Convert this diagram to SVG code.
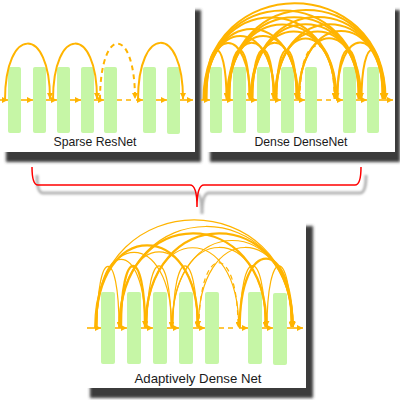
<svg xmlns="http://www.w3.org/2000/svg" width="400" height="400" viewBox="0 0 400 400">
<defs>
<style>
.shadow{fill:#3a3a3a;filter:url(#blur)}
.panel{fill:#ffffff}
.blk{fill:#c6f6a6}
.ln{fill:none;stroke:#ffb400;stroke-width:1.6;marker-end:url(#ah)}
.arc{fill:none;stroke:#ffb400;stroke-width:2;marker-end:url(#ah)}
.thin{fill:none;stroke:#ffb400;stroke-width:1.2;marker-end:url(#ahs)}
.thick{fill:none;stroke:#ffb400;stroke-width:2.3;marker-end:url(#ah)}
.dash{stroke-dasharray:5 4}
.lbl{font-family:"Liberation Sans",Arial,sans-serif;font-size:13px;fill:#1a1a1a;text-anchor:middle}
</style>
<filter id="blur" x="-10%" y="-10%" width="120%" height="120%"><feGaussianBlur stdDeviation="1.6"/></filter>
<filter id="blur2" x="-10%" y="-50%" width="120%" height="200%"><feGaussianBlur stdDeviation="1.3"/></filter>
<marker id="ah" viewBox="0 0 10 10" refX="10" refY="5" markerWidth="6" markerHeight="6" markerUnits="userSpaceOnUse" orient="auto"><path d="M0,0 L10,5 L0,10 z" fill="#ffb400"/></marker>
<marker id="ahs" viewBox="0 0 10 10" refX="10" refY="5" markerWidth="5" markerHeight="5" markerUnits="userSpaceOnUse" orient="auto"><path d="M0,0 L10,5 L0,10 z" fill="#ffb400"/></marker>
</defs>

<!-- panel shadows and backgrounds -->
<rect class="shadow" x="6" y="10" width="195" height="152"/>
<rect class="shadow" x="210" y="10" width="190" height="152"/>
<rect class="shadow" x="90" y="226" width="223" height="172"/>
<rect class="panel" x="0" y="0" width="195" height="152"/>
<rect class="panel" x="205" y="0" width="190" height="152"/>
<rect class="panel" x="84" y="217" width="222" height="171"/>

<!-- brace -->
<g id="brace">
<path d="M37 175 Q37 193 43 193 L195 193 Q202 193 202 214 Q202 193 209 193 L360 193 Q366 193 366 175" fill="none" stroke="#777" stroke-width="3" opacity="0.55" filter="url(#blur2)"/>
<path d="M32 167 Q32 185 38 185 L190 185 Q197 185 197 207 Q197 185 204 185 L355 185 Q361 185 361 167" fill="none" stroke="#ff0000" stroke-width="1.5"/>
</g>

<g id="panel-resnet">
<rect class="blk" x="8" y="67" width="13" height="66" rx="2"/>
<rect class="blk" x="33" y="67" width="13" height="66" rx="2"/>
<rect class="blk" x="57" y="67" width="13" height="66" rx="2"/>
<rect class="blk" x="81" y="67" width="13" height="66" rx="2"/>
<rect class="blk" x="104" y="67" width="13" height="66" rx="2"/>
<rect class="blk" x="143" y="67" width="13" height="66" rx="2"/>
<rect class="blk" x="167" y="67" width="13" height="67" rx="2"/>
<text class="lbl" x="95" y="146" textLength="83" lengthAdjust="spacingAndGlyphs">Sparse ResNet</text>
</g>

<g id="panel-densenet">
<rect class="blk" x="210" y="67" width="12" height="66" rx="2"/>
<rect class="blk" x="233" y="67" width="13" height="66" rx="2"/>
<rect class="blk" x="257" y="67" width="13" height="66" rx="2"/>
<rect class="blk" x="281" y="67" width="13" height="66" rx="2"/>
<rect class="blk" x="305" y="67" width="12" height="66" rx="2"/>
<rect class="blk" x="343" y="67" width="13" height="66" rx="2"/>
<rect class="blk" x="367" y="67" width="12" height="66" rx="2"/>
<text class="lbl" x="301" y="146" textLength="93" lengthAdjust="spacingAndGlyphs">Dense DenseNet</text>
</g>

<g id="panel-adaptive">
<rect class="blk" x="101" y="292" width="14" height="72" rx="2"/>
<rect class="blk" x="127" y="292" width="14" height="72" rx="2"/>
<rect class="blk" x="153" y="292" width="14" height="72" rx="2"/>
<rect class="blk" x="179" y="292" width="14" height="72" rx="2"/>
<rect class="blk" x="205" y="292" width="14" height="72" rx="2"/>
<rect class="blk" x="248" y="292" width="14" height="72" rx="2"/>
<rect class="blk" x="273" y="293" width="14" height="72" rx="2"/>
<text class="lbl" x="198" y="383" textLength="127" lengthAdjust="spacingAndGlyphs">Adaptively Dense Net</text>
</g>

<g id="connectors">
<!-- ResNet flow -->
<path class="ln" d="M0 100H8"/>
<path class="ln" d="M21 100H33"/>
<path class="ln" d="M46 100H57"/>
<path class="ln" d="M70 100H81"/>
<path class="ln" d="M94 100H104"/>
<path class="ln dash" d="M117 100H134" style="marker-end:none"/>
<path class="ln" d="M136 100H143"/>
<path class="ln" d="M156 100H167"/>
<path class="ln" d="M180 100H193"/>
<path class="arc" d="M5,100 C5,25 50,25 50,99"/>
<path class="arc" d="M53,100 C53,25 97,25 97,99"/>
<path class="arc dash" d="M100,100 C100,25 135,25 135,99"/>
<path class="arc" d="M138,100 C138,24 183,24 183,99"/>

<!-- DenseNet flow -->
<path class="ln" d="M201 100H210"/>
<path class="ln" d="M222 100H233"/>
<path class="ln" d="M246 100H257"/>
<path class="ln" d="M270 100H281"/>
<path class="ln" d="M294 100H305"/>
<path class="ln dash" d="M317 100H334" style="marker-end:none"/>
<path class="ln" d="M336 100H343"/>
<path class="ln" d="M356 100H367"/>
<path class="ln" d="M379 100H393"/>
<path class="arc" d="M206.5,100 C206.5,33.5 226.5,33.5 226.5,99"/>
<path class="arc" d="M206,100 C206,24.3 250,24.3 250,99"/>
<path class="arc" d="M205.5,100 C205.5,14.7 274.5,14.7 274.5,99"/>
<path class="arc" d="M205,100 C205,5.5 298,5.5 298,99"/>
<path class="arc" d="M204.5,100 C204.5,-9.7 336.5,-9.7 336.5,99"/>
<path class="arc" d="M204,100 C204,-19.3 361,-19.3 361,99"/>
<path class="arc" d="M203.5,100 C203.5,-28.9 385.5,-28.9 385.5,99"/>
<path class="arc" d="M229.5,100 C229.5,33.5 249.5,33.5 249.5,99"/>
<path class="arc" d="M229,100 C229,23.9 274,23.9 274,99"/>
<path class="arc" d="M228.5,100 C228.5,14.7 297.5,14.7 297.5,99"/>
<path class="arc" d="M228,100 C228,-0.5 336,-0.5 336,99"/>
<path class="arc" d="M227.5,100 C227.5,-10.1 360.5,-10.1 360.5,99"/>
<path class="arc" d="M227,100 C227,-19.7 385,-19.7 385,99"/>
<path class="arc" d="M252.5,100 C252.5,33.1 273.5,33.1 273.5,99"/>
<path class="arc" d="M252,100 C252,23.9 297,23.9 297,99"/>
<path class="arc" d="M251.5,100 C251.5,8.7 335.5,8.7 335.5,99"/>
<path class="arc" d="M251,100 C251,-0.9 360,-0.9 360,99"/>
<path class="arc" d="M250.5,100 C250.5,-10.5 384.5,-10.5 384.5,99"/>
<path class="arc" d="M276.5,100 C276.5,33.5 296.5,33.5 296.5,99"/>
<path class="arc" d="M276,100 C276,18.3 335,18.3 335,99"/>
<path class="arc" d="M275.5,100 C275.5,8.7 359.5,8.7 359.5,99"/>
<path class="arc" d="M275,100 C275,-0.9 384,-0.9 384,99"/>
<path class="arc dash" d="M299.5,100 C299.5,27.5 334.5,27.5 334.5,99"/>
<path class="arc" d="M299,100 C299,17.9 359,17.9 359,99"/>
<path class="arc" d="M298.5,100 C298.5,8.3 383.5,8.3 383.5,99"/>
<path class="arc" d="M337.5,100 C337.5,33.1 358.5,33.1 358.5,99"/>
<path class="arc" d="M337,100 C337,23.5 383,23.5 383,99"/>
<path class="arc" d="M361.5,100 C361.5,33.1 382.5,33.1 382.5,99"/>

<!-- Adaptive flow -->
<path class="ln" d="M87 328H101"/>
<path class="ln" d="M115 328H127"/>
<path class="ln" d="M141 328H153"/>
<path class="ln" d="M167 328H179"/>
<path class="ln" d="M193 328H205"/>
<path class="ln dash" d="M219 328H237" style="marker-end:none"/>
<path class="ln" d="M239 328H248"/>
<path class="ln" d="M262 328H273"/>
<path class="ln" d="M287 328H303"/>
<path class="thin" d="M97,328 C97,246 119,246 119,327"/>
<path class="thin" d="M96.7,328 C96.7,236.7 145.3,236.7 145.3,327"/>
<path class="thin" d="M96.3,328 C96.3,227.3 171.7,227.3 171.7,327"/>
<path class="thick" d="M95.9,328 C95.9,218 198.1,218 198.1,327"/>
<path class="thin" d="M94.7,328 C94.7,184.1 293.3,184.1 293.3,327"/>
<path class="thick" d="M121,328 C121,245.3 145,245.3 145,327"/>
<path class="thin" d="M120.3,328 C120.3,226.6 197.7,226.6 197.7,327"/>
<path class="thick" d="M119.5,328 C119.5,202.1 266.5,202.1 266.5,327"/>
<path class="thin" d="M119.1,328 C119.1,192.8 292.9,192.8 292.9,327"/>
<path class="thin" d="M147,328 C147,245.3 171,245.3 171,327"/>
<path class="thin" d="M146.3,328 C146.3,221.2 238.7,221.2 238.7,327"/>
<path class="thick" d="M145.5,328 C145.5,202.1 292.5,202.1 292.5,327"/>
<path class="thin" d="M173,328 C173,245.3 197,245.3 197,327"/>
<path class="thin" d="M172.3,328 C172.3,220.8 265.7,220.8 265.7,327"/>
<path class="thin" d="M171.9,328 C171.9,211.5 292.1,211.5 292.1,327"/>
<path class="thin dash" d="M199,328 C199,241 238,241 238,327"/>
<path class="thin" d="M198.3,328 C198.3,220.8 291.7,220.8 291.7,327"/>
<path class="thin" d="M240,328 C240,245 265,245 265,327"/>
<path class="thick" d="M239.7,328 C239.7,235.6 292.3,235.6 292.3,327"/>
<path class="thin" d="M267,328 C267,245.3 291,245.3 291,327"/>
</g>
</svg>
